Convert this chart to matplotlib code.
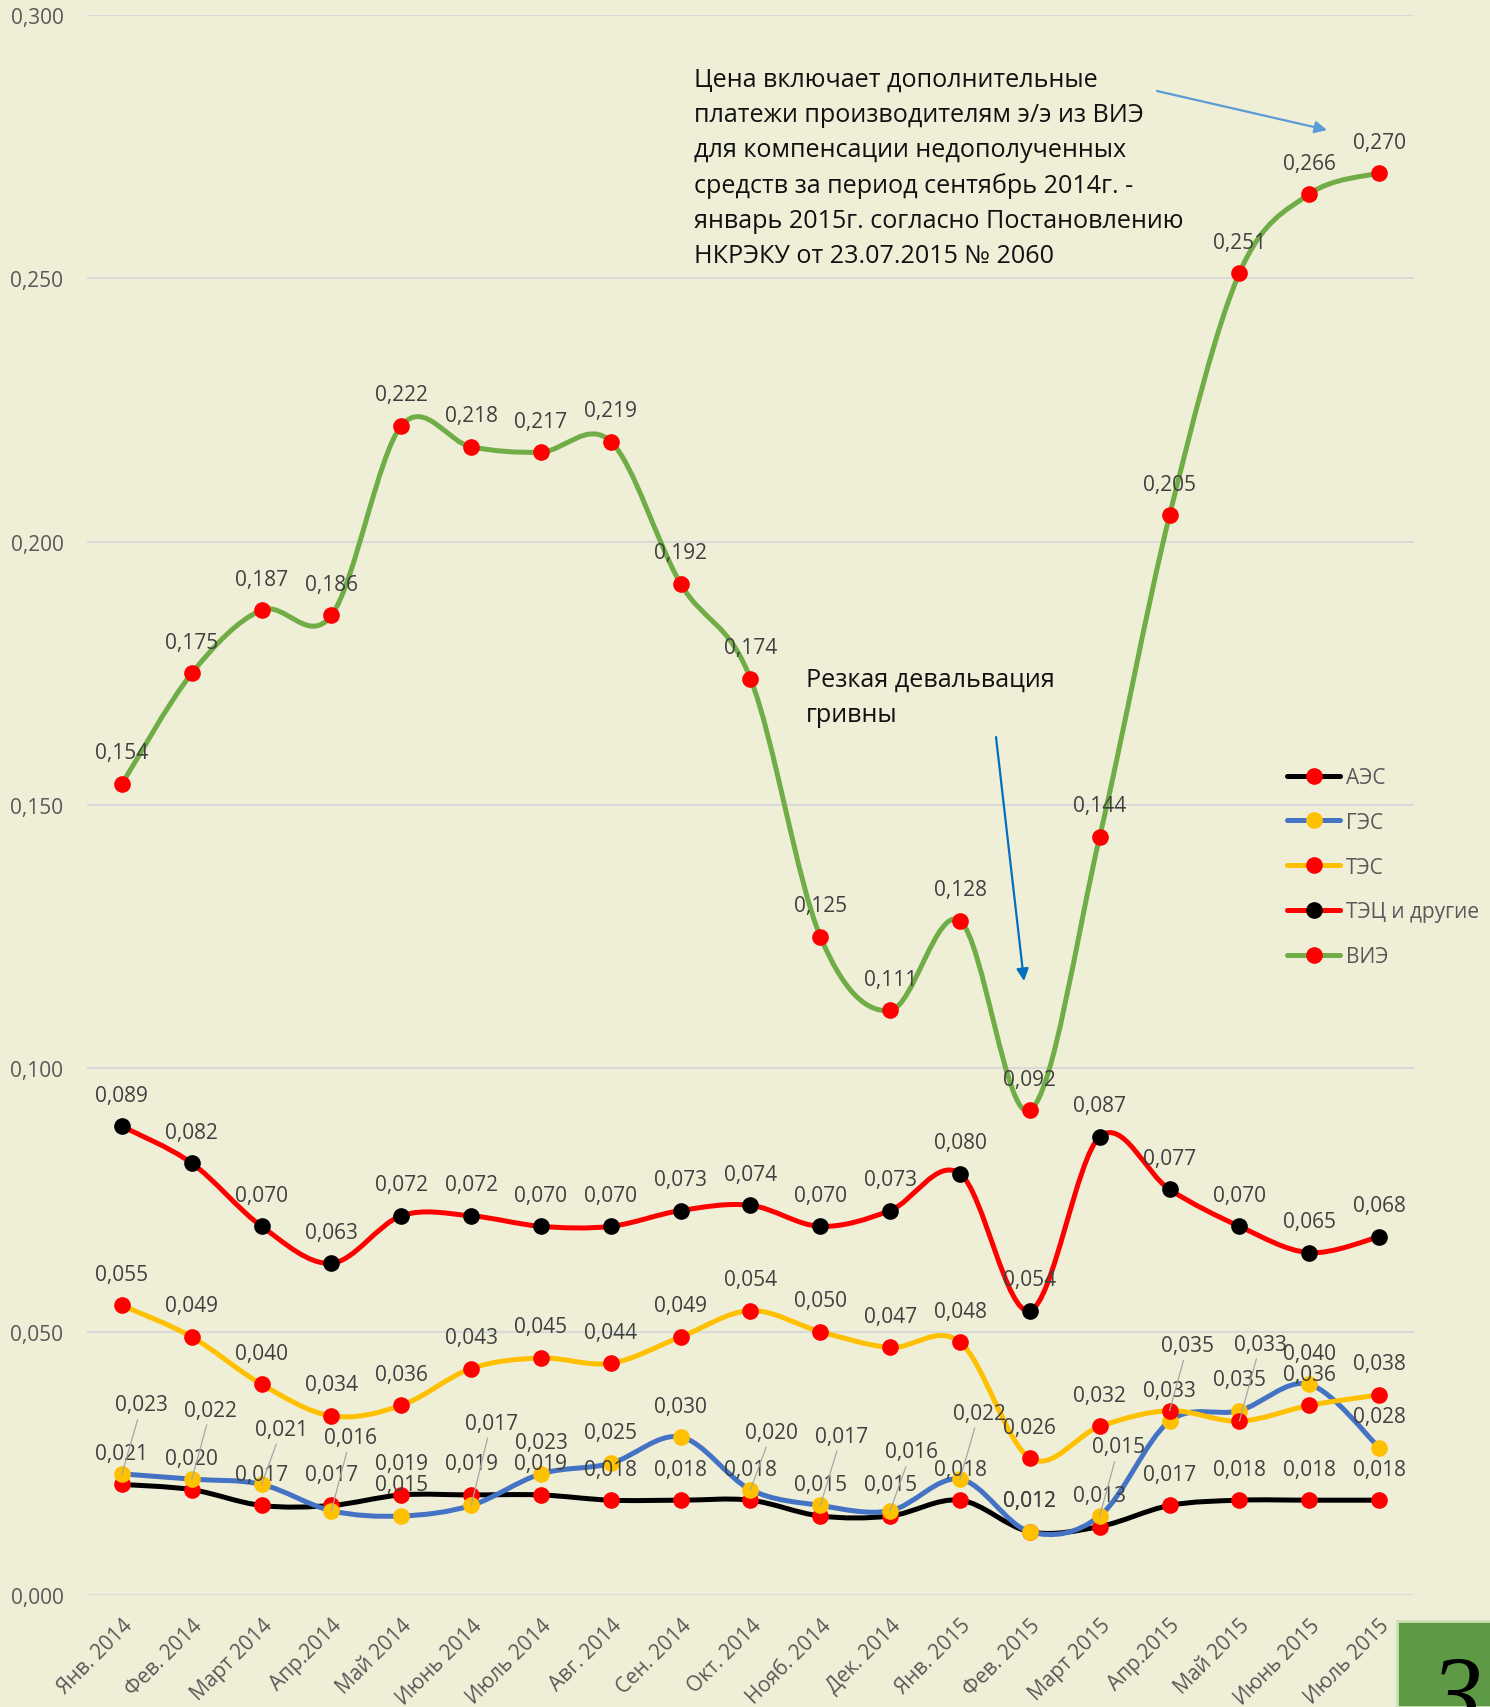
import numpy as np
import matplotlib
matplotlib.use('Agg')
import matplotlib.pyplot as plt
from matplotlib.path import Path
from matplotlib.patches import PathPatch, Rectangle
from matplotlib.lines import Line2D

plt.rcParams['font.family'] = ['Open Sans', 'DejaVu Sans']

# данные
months = ['Янв. 2014', 'Фев. 2014', 'Март 2014', 'Апр.2014', 'Май 2014', 'Июнь 2014',
          'Июль 2014', 'Авг. 2014', 'Сен. 2014', 'Окт. 2014', 'Нояб. 2014', 'Дек. 2014',
          'Янв. 2015', 'Фев. 2015', 'Март 2015', 'Апр.2015', 'Май 2015', 'Июнь 2015', 'Июль 2015']
aes = [0.021, 0.020, 0.017, 0.017, 0.019, 0.019, 0.019, 0.018, 0.018, 0.018,
       0.015, 0.015, 0.018, 0.012, 0.013, 0.017, 0.018, 0.018, 0.018]
ges = [0.023, 0.022, 0.021, 0.016, 0.015, 0.017, 0.023, 0.025, 0.030, 0.020,
       0.017, 0.016, 0.022, 0.012, 0.015, 0.033, 0.035, 0.040, 0.028]
tes = [0.055, 0.049, 0.040, 0.034, 0.036, 0.043, 0.045, 0.044, 0.049, 0.054,
       0.050, 0.047, 0.048, 0.026, 0.032, 0.035, 0.033, 0.036, 0.038]
tec = [0.089, 0.082, 0.070, 0.063, 0.072, 0.072, 0.070, 0.070, 0.073, 0.074,
       0.070, 0.073, 0.080, 0.054, 0.087, 0.077, 0.070, 0.065, 0.068]
vie = [0.154, 0.175, 0.187, 0.186, 0.222, 0.218, 0.217, 0.219, 0.192, 0.174,
       0.125, 0.111, 0.128, 0.092, 0.144, 0.205, 0.251, 0.266, 0.270]
series_names = ['АЭС', 'ГЭС', 'ТЭС', 'ТЭЦ и другие', 'ВИЭ']

# стили серий: цвет линии, цвет маркера
line_colors = ['#000000', '#4472C4', '#FFC000', '#FF0000', '#70AD47']
marker_colors = ['#FF0000', '#FFC000', '#FF0000', '#000000', '#FF0000']

# смещения подписей, вынесенных с выноской (пиксели)
moved_labels = {
    1: {0: (20, 69), 1: (19, 69), 2: (20, 55), 3: (19, 73), 5: (20, 82), 9: (21, 57),
        10: (21, 69), 11: (21, 59), 12: (19, 66), 14: (19, 69)},
    2: {15: (18, 65), 16: (21, 77)},
}

bg = '#EFEFD7'
fig = plt.figure(figsize=(14.9, 17.08), dpi=100, facecolor=bg)
ax = fig.add_axes([87 / 1490, 1 - 1596 / 1708, (1414 - 87) / 1490, (1596 - 16) / 1708])
ax.set_facecolor(bg)

x = np.arange(len(months))
PX = 72 / 100  # пиксели -> пункты


def smooth_line(xs, ys, color, z):
    pts = np.column_stack([xs, ys])
    n = len(pts)
    verts = [pts[0]]
    codes = [Path.MOVETO]
    for i in range(n - 1):
        p0 = pts[max(i - 1, 0)]
        p1 = pts[i]
        p2 = pts[i + 1]
        p3 = pts[min(i + 2, n - 1)]
        verts += [p1 + (p2 - p0) / 6, p2 - (p3 - p1) / 6, p2]
        codes += [Path.CURVE4] * 3
    patch = PathPatch(Path(verts, codes), fill=False, edgecolor=color, lw=3.6,
                      zorder=z, capstyle='round', joinstyle='round')
    ax.add_patch(patch)


all_series = [aes, ges, tes, tec, vie]
for k, vals in enumerate(all_series):
    smooth_line(x, vals, line_colors[k], 2 + k * 2)
    ax.plot(x, vals, 'o', color=marker_colors[k], markersize=12, markeredgewidth=0,
            zorder=3 + k * 2)
    for i, v in enumerate(vals):
        txt = f'{v:.3f}'.replace('.', ',')
        if i in moved_labels.get(k, {}):
            dx, dy = moved_labels[k][i]
            ax.annotate(txt, xy=(i, v), xytext=(dx * PX, dy * PX), textcoords='offset points',
                        ha='center', va='center', fontsize=15, color='#404040', zorder=20,
                        arrowprops=dict(arrowstyle='-', color='#A6A6A6', lw=0.9,
                                        shrinkA=1, shrinkB=0))
        else:
            ax.annotate(txt, xy=(i, v), xytext=(0, 31 * PX), textcoords='offset points',
                        ha='center', va='center', fontsize=15, color='#404040', zorder=20)

ax.set_xlim(-0.5, len(months) - 0.5)
ax.set_ylim(0, 0.3)
ax.set_yticks(np.arange(0, 0.31, 0.05))
ax.set_yticklabels([f'{t:.3f}'.replace('.', ',') for t in np.arange(0, 0.31, 0.05)])
ax.set_xticks(x)
ax.set_xticklabels(months, rotation=45, ha='right', va='top', rotation_mode='anchor')
ax.tick_params(axis='both', length=0, labelsize=15, labelcolor='#595959')
ax.tick_params(axis='y', pad=17)
ax.tick_params(axis='x', pad=14)
ax.grid(axis='y', color='#D9D9D9', lw=1.5)
ax.set_axisbelow(True)
for s in ax.spines.values():
    s.set_visible(False)

# легенда
handles = [Line2D([], [], color=line_colors[k], lw=3.6, marker='o', markersize=12,
                  markerfacecolor=marker_colors[k], markeredgewidth=0, solid_capstyle='round')
           for k in range(5)]
leg = fig.legend(handles, series_names, loc='upper left', bbox_to_anchor=(1287 / 1490, 1 - 768 / 1708),
                 frameon=False, fontsize=15, handlelength=2.55, handletextpad=0.3,
                 labelspacing=1.14, borderpad=0, borderaxespad=0)
for t in leg.get_texts():
    t.set_color('#595959')

# пояснения
fig.text(694 / 1490, 1 - 68 / 1708,
         'Цена включает дополнительные\nплатежи производителям э/э из ВИЭ\n'
         'для компенсации недополученных\nсредств за период сентябрь 2014г. -\n'
         'январь 2015г. согласно Постановлению\nНКРЭКУ от 23.07.2015 № 2060',
         ha='left', va='top', fontsize=18.1, color='#111111', linespacing=1.52)
fig.text(806 / 1490, 1 - 668 / 1708, 'Резкая девальвация\nгривны',
         ha='left', va='top', fontsize=18.1, color='#111111', linespacing=1.52)

ax.annotate('', xy=(1327 / 1490, 1 - 131 / 1708), xytext=(1157 / 1490, 1 - 92 / 1708),
            xycoords='figure fraction', textcoords='figure fraction',
            arrowprops=dict(arrowstyle='-|>', color='#5B9BD5', lw=1.6, mutation_scale=18,
                            shrinkA=0, shrinkB=0))
ax.annotate('', xy=(1024 / 1490, 1 - 982 / 1708), xytext=(996 / 1490, 1 - 738 / 1708),
            xycoords='figure fraction', textcoords='figure fraction',
            arrowprops=dict(arrowstyle='-|>', color='#0070C0', lw=1.6, mutation_scale=18,
                            shrinkA=0, shrinkB=0))

# номер страницы
fig.patches.append(Rectangle((1397 / 1490, 0), 1 - 1397 / 1490 + 0.01, 86 / 1708,
                             transform=fig.transFigure, facecolor='#5E9A45',
                             edgecolor='#C9E2B3', lw=2, zorder=5))
fig.text(1456 / 1490, -20 / 1708, '3', ha='center', va='baseline', fontsize=74,
         family='Liberation Serif', style='italic', color='#000000', zorder=6)

fig.savefig('out.png', dpi=100, facecolor=bg)
